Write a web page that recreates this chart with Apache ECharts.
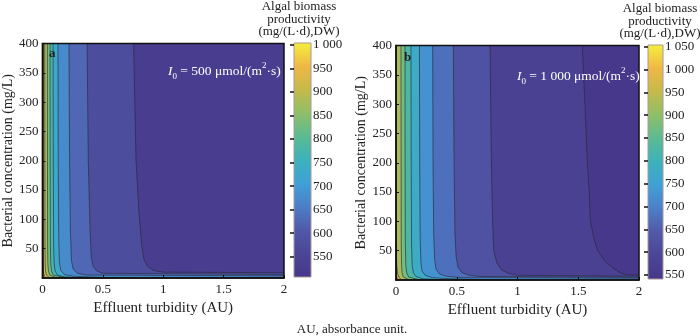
<!DOCTYPE html>
<html><head><meta charset="utf-8">
<script src="https://cdn.jsdelivr.net/npm/echarts@6/dist/echarts.min.js"></script>
<style>html,body{margin:0;padding:0;background:#fff}#c{width:700px;height:336px}</style>
</head><body><div id="c"></div>
<script>
// ---- axis ticks ----
const xTicks = [0, 0.5, 1, 1.5, 2];
const yTicks = [50, 100, 150, 200, 250, 300, 350, 400];
const cbTicksA = [550, 600, 650, 700, 750, 800, 850, 900, 950, 1000];
const cbTicksB = [550, 600, 650, 700, 750, 800, 850, 900, 950, 1000, 1050];
const rangeA = [507, 1004];
const rangeB = [541, 1054];

// ---- panel a: contour levels and their boundaries [turbidity, bacterial conc] ----
const levelsA = [550, 600, 650, 700, 750, 800, 850, 900, 950];
const a550 = [[0.755,400],[0.775,200],[0.8,110],[0.82,60],[0.84,32],[0.87,20],[0.92,13],[1.0,10],[2,9]];
const a600 = [[0.37,400],[0.38,200],[0.395,80],[0.405,35],[0.42,20],[0.45,12],[0.5,8],[2,6]];
const a650 = [[0.22,400],[0.225,200],[0.232,80],[0.24,30],[0.255,15],[0.29,8],[0.36,5],[2,3.5]];
const a700 = [[0.129,400],[0.131,200],[0.135,70],[0.14,28],[0.152,13],[0.18,6],[0.26,3],[0.6,0]];
const a750 = [[0.088,400],[0.09,200],[0.093,60],[0.097,25],[0.105,12],[0.125,5],[0.18,2],[0.35,0]];
const a800 = [[0.063,400],[0.064,200],[0.066,60],[0.069,25],[0.075,12],[0.09,5],[0.2,0]];
const a850 = [[0.041,400],[0.042,200],[0.043,60],[0.045,25],[0.05,12],[0.06,5],[0.12,0]];
const a900 = [[0.019,400],[0.02,200],[0.021,60],[0.023,25],[0.026,12],[0.033,5],[0.06,0]];
const a950 = [[0,50],[0.004,20],[0.01,8],[0.025,0]];

// ---- panel b ----
const levelsB = [550, 600, 650, 700, 750, 800, 850, 900, 950, 1000];
const b550 = [[1.533,400],[1.555,300],[1.575,200],[1.59,150],[1.6,100],[1.63,70],[1.66,50],[1.72,32],[1.79,20],[1.85,12],[1.9,9],[2,8.5]];
const b600 = [[0.774,400],[0.785,200],[0.795,100],[0.805,50],[0.83,29],[0.87,17],[0.93,11],[1.0,8],[2,6.5]];
const b650 = [[0.472,400],[0.478,200],[0.485,80],[0.495,40],[0.51,22],[0.54,13],[0.6,8],[0.7,6],[2,4.5]];
const b700 = [[0.302,400],[0.305,200],[0.31,80],[0.318,35],[0.33,18],[0.36,10],[0.42,6],[0.55,4],[2,3]];
const b750 = [[0.193,400],[0.195,200],[0.199,70],[0.205,30],[0.215,15],[0.24,8],[0.3,4],[0.45,2],[0.9,0]];
const b800 = [[0.123,400],[0.125,200],[0.128,60],[0.133,25],[0.143,12],[0.165,6],[0.22,2],[0.4,0]];
const b850 = [[0.074,400],[0.075,200],[0.077,60],[0.081,25],[0.088,12],[0.105,5],[0.2,0]];
const b900 = [[0.041,400],[0.042,200],[0.043,60],[0.046,25],[0.05,12],[0.06,5],[0.11,0]];
const b950 = [[0,60],[0.006,25],[0.014,10],[0.03,3],[0.05,0]];
const b1000 = [[0,12],[0.008,4],[0.015,0]];

const contoursA = [a550,a600,a650,a700,a750,a800,a850,a900,a950];
const contoursB = [b550,b600,b650,b700,b750,b800,b850,b900,b950,b1000];

// colormap (muted parula-like)
const cmap = ['#46378a','#4c4697','#5059a8','#4d7ec8','#3fa0d6','#3cb2bc','#5abb94','#8ebf68','#c4ba4a','#f0b745','#f5ee3c'];
const FONT = 'Liberation Serif';

function bandData(levels, range) {
  const out = [];
  const edges = [range[0], ...levels, range[1]];
  for (let i = 0; i < edges.length - 1; i++) out.push([0, 0, (edges[i] + edges[i+1]) / 2, i]);
  return out;
}
function makePoly(pts) {
  const poly = [[0, pts[0][1]]].concat(pts);
  const last = pts[pts.length - 1];
  if (last[1] > 0) poly.push([2, 0]);
  poly.push([0, 0]);
  return poly;
}
function bandRender(contours) {
  return function (params, api) {
    const i = params.dataIndex;
    const color = api.visual('color');
    if (i === 0) {
      return { type: 'polygon', shape: { points: [[0,400],[2,400],[2,0],[0,0]].map(p => api.coord(p)) }, style: { fill: color } };
    }
    const pts = contours[i - 1];
    return {
      type: 'group',
      children: [
        { type: 'polygon', shape: { points: makePoly(pts).map(p => api.coord(p)) }, style: { fill: color } },
        { type: 'polyline', shape: { points: pts.map(p => api.coord(p)) }, style: { fill: null, stroke: 'rgba(40,40,55,0.8)', lineWidth: 0.8 } }
      ]
    };
  };
}
function cbRender(range) {
  return function (params, api) {
    const p0 = api.coord([0, range[1]]);
    const p1 = api.coord([1, range[0]]);
    return { type: 'rect', shape: { x: p0[0], y: p0[1], width: p1[0] - p0[0], height: p1[1] - p0[1] },
      style: { fill: { type: 'linear', x: 0, y: 1, x2: 0, y2: 0, colorStops: cmap.map((c, k) => ({ offset: k / (cmap.length - 1), color: c })) } } };
  };
}
const fmtK = v => v >= 1000 ? '1 ' + String(v).slice(1) : String(v);

function mainX(gi, gap) {
  return { gridIndex: gi, type: 'value', min: 0, max: 2, interval: 0.5, z: 4,
    name: 'Effluent turbidity (AU)', nameLocation: 'middle', nameGap: gap,
    nameTextStyle: { fontFamily: FONT, fontSize: 15, color: '#222' },
    axisLine: { show: true, onZero: false, lineStyle: { color: '#111', width: 1.5 } },
    axisTick: { show: true, inside: true, length: 3, lineStyle: { color: '#111' } },
    axisLabel: { fontFamily: FONT, fontSize: 13, color: '#222', margin: 5, formatter: v => String(v) },
    splitLine: { show: false } };
}
function mainY(gi) {
  return { gridIndex: gi, type: 'value', min: 0, max: 400, interval: 50, z: 4,
    name: 'Bacterial concentration (mg/L)', nameLocation: 'middle', nameGap: 26,
    nameTextStyle: { fontFamily: FONT, fontSize: 14, color: '#222' },
    axisLine: { show: true, onZero: false, lineStyle: { color: '#111', width: 1.5 } },
    axisTick: { show: true, inside: true, length: 3, lineStyle: { color: '#111' } },
    axisLabel: { fontFamily: FONT, fontSize: 13, color: '#222', margin: 4, showMinLabel: false },
    splitLine: { show: false } };
}
function cbX(gi) { return { gridIndex: gi, type: 'value', min: 0, max: 1, show: false }; }
function cbY(gi, range, ticks) {
  return { gridIndex: gi, type: 'value', min: range[0], max: range[1], position: 'right', z: 4,
    axisLine: { show: false },
    axisTick: { show: true, inside: true, length: 4, customValues: ticks, lineStyle: { color: '#111', width: 1.5 } },
    axisLabel: { fontFamily: FONT, fontSize: 13, color: '#222', margin: 2, customValues: ticks, formatter: fmtK },
    splitLine: { show: false } };
}

function annot(x, y, val) {
  return { type: 'text', x: x, y: y, z: 100,
    style: { text: '{i|I}{s|0}{n| = ' + val + ' μmol/(m}{p|2}{n|·s)}', verticalAlign: 'middle', fill: '#fff',
      rich: {
        i: { fontFamily: FONT, fontSize: 13.5, fontStyle: 'italic', lineHeight: 20, fill: '#fff' },
        n: { fontFamily: FONT, fontSize: 13.5, lineHeight: 20, fill: '#fff' },
        s: { fontFamily: FONT, fontSize: 9, lineHeight: 10, verticalAlign: 'bottom', fill: '#fff' },
        p: { fontFamily: FONT, fontSize: 9, lineHeight: 10, verticalAlign: 'top', fill: '#fff' }
      } } };
}
function cbTitle(cx, y) {
  return { type: 'text', x: cx, y: y, z: 100,
    style: { text: 'Algal biomass\nproductivity\n(mg/(L·d),DW)', fontFamily: FONT, fontSize: 13, lineHeight: 12.8, textAlign: 'center', fill: '#222' } };
}

const chart = echarts.init(document.getElementById('c'), null, { renderer: 'canvas' });
chart.setOption({
  animation: false,
  backgroundColor: '#fff',
  grid: [
    { left: 41, top: 43.5, width: 243, height: 234.5, show: true, borderColor: '#111', borderWidth: 1.5, z: 3, backgroundColor: 'transparent' },
    { left: 396, top: 45.5, width: 243, height: 234.5, show: true, borderColor: '#111', borderWidth: 1.5, z: 3, backgroundColor: 'transparent' },
    { left: 294, top: 43, width: 17, height: 234, show: true, borderColor: '#a89898', borderWidth: 1, z: 3, backgroundColor: 'transparent' },
    { left: 648, top: 45, width: 15, height: 234, show: true, borderColor: '#a89898', borderWidth: 1, z: 3, backgroundColor: 'transparent' }
  ],
  xAxis: [mainX(0, 17), mainX(1, 19), cbX(2), cbX(3)],
  yAxis: [mainY(0), mainY(1), cbY(2, rangeA, cbTicksA), cbY(3, rangeB, cbTicksB)],
  visualMap: [
    { show: false, seriesIndex: 0, dimension: 2, min: rangeA[0], max: rangeA[1], inRange: { color: cmap } },
    { show: false, seriesIndex: 1, dimension: 2, min: rangeB[0], max: rangeB[1], inRange: { color: cmap } }
  ],
  series: [
    { type: 'custom', xAxisIndex: 0, yAxisIndex: 0, z: 1, data: bandData(levelsA, rangeA), renderItem: bandRender(contoursA), silent: true },
    { type: 'custom', xAxisIndex: 1, yAxisIndex: 1, z: 1, data: bandData(levelsB, rangeB), renderItem: bandRender(contoursB), silent: true },
    { type: 'custom', xAxisIndex: 2, yAxisIndex: 2, z: 1, data: [[0.5, rangeA[0]]], renderItem: cbRender(rangeA), silent: true },
    { type: 'custom', xAxisIndex: 3, yAxisIndex: 3, z: 1, data: [[0.5, rangeB[0]]], renderItem: cbRender(rangeB), silent: true }
  ],
  graphic: [
    annot(168, 71, '500'),
    annot(517, 76, '1 000'),
    { type: 'text', x: 49, y: 47, z: 100, style: { text: 'a', fontFamily: FONT, fontSize: 13, fontWeight: 'bold', fill: '#222' } },
    { type: 'text', x: 404, y: 51, z: 100, style: { text: 'b', fontFamily: FONT, fontSize: 13, fontWeight: 'bold', fill: '#222' } },
    cbTitle(299, 0),
    cbTitle(660, 2),
    { type: 'text', x: 352, y: 330, z: 100, style: { text: 'AU, absorbance unit.', fontFamily: FONT, fontSize: 13, textAlign: 'center', verticalAlign: 'middle', fill: '#222' } }
  ]
});
</script></body></html>
